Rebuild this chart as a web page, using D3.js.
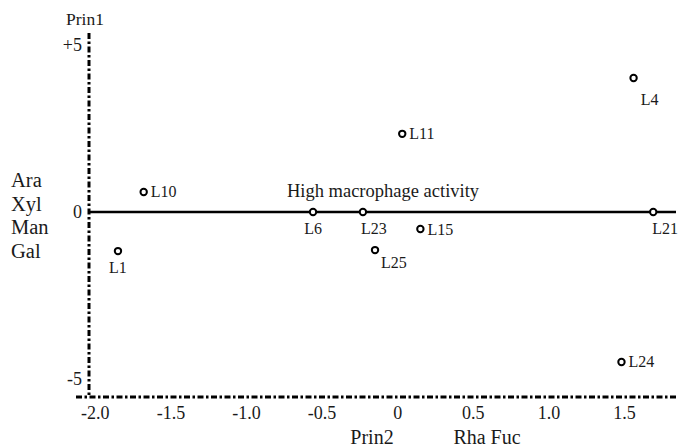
<!DOCTYPE html>
<html><head><meta charset="utf-8">
<script src="https://cdn.jsdelivr.net/npm/d3@7"></script>
<style>body{margin:0;background:#fff}svg{display:block}text{font-family:"Liberation Serif","Times New Roman",serif;fill:#1a1a1a}</style>
</head><body><svg id="c" width="680" height="447"></svg>
<script>
const names = ["L10","L1","L6","L23","L11","L15","L25","L21","L4","L24"];
const prin2 = [-1.68,-1.85,-0.56,-0.23,0.03,0.15,-0.15,1.69,1.56,1.48];
const prin1 = [0.60,-1.17,0,0,2.34,-0.51,-1.14,0,4.01,-4.49];
const labelPlace = ["right","below","below","below","right","right","belowRight","below","below","right"];
const xTicks = [-2.0,-1.5,-1.0,-0.5,0,0.5,1.0,1.5];
const xTickLabels = ["-2.0","-1.5","-1.0","-0.5","0","0.5","1.0","1.5"];
const yTicks = [5,0,-5];
const yTickLabels = ["+5","0","-5"];
const sugars = ["Ara","Xyl","Man","Gal"];

const svg = d3.select("#c");
const x = d3.scaleLinear().domain([-2.0,1.5]).range([95.3,624.5]);
const y = d3.scaleLinear().domain([-5,5]).range([379,45]);
const axisX0 = 89, axisY0 = 397;
const dash = "6,2.5,2.5,2.5";

svg.append("line").attr("x1",axisX0).attr("x2",axisX0).attr("y1",33).attr("y2",axisY0)
  .attr("stroke","#000").attr("stroke-width",3).attr("stroke-dasharray",dash);
svg.append("line").attr("x1",76).attr("x2",678).attr("y1",axisY0).attr("y2",axisY0)
  .attr("stroke","#000").attr("stroke-width",3).attr("stroke-dasharray",dash);

svg.append("g").selectAll("text").data(xTicks).join("text")
  .attr("x",d=>x(d)).attr("y",419).attr("text-anchor","middle").attr("font-size",18)
  .text((d,i)=>xTickLabels[i]);
svg.append("g").selectAll("text").data(yTicks).join("text")
  .attr("x",82).attr("y",d=>y(d)+6).attr("text-anchor","end").attr("font-size",18)
  .text((d,i)=>yTickLabels[i]);

svg.append("text").attr("x",85).attr("y",25).attr("text-anchor","middle").attr("font-size",17.5).text("Prin1");
svg.append("text").attr("x",372).attr("y",444).attr("text-anchor","middle").attr("font-size",20).text("Prin2");
svg.append("text").attr("x",487).attr("y",444).attr("text-anchor","middle").attr("font-size",20).text("Rha Fuc");
svg.append("g").selectAll("text").data(sugars).join("text")
  .attr("x",11).attr("y",(d,i)=>187+i*23.5).attr("font-size",20.5).text(d=>d);

svg.append("line").attr("x1",axisX0).attr("x2",676).attr("y1",y(0)).attr("y2",y(0))
  .attr("stroke","#000").attr("stroke-width",2.5);
svg.append("text").attr("x",383).attr("y",197).attr("text-anchor","middle").attr("font-size",18.5).text("High macrophage activity");

const pts = names.map((n,i)=>({n,x:prin2[i],y:prin1[i],p:labelPlace[i]}));
svg.append("g").selectAll("circle").data(pts).join("circle")
  .attr("cx",d=>x(d.x)).attr("cy",d=>y(d.y)).attr("r",3.2)
  .attr("fill","#fff").attr("stroke","#000").attr("stroke-width",2);
const dxBelow = {L23:11, L21:12, L4:16};
svg.append("g").selectAll("text").data(pts).join("text")
  .attr("font-size",16)
  .attr("x",d=>d.p==="right"?x(d.x)+7:d.p==="belowRight"?x(d.x)+6:x(d.x)+(dxBelow[d.n]||0))
  .attr("y",d=>d.p==="right"?y(d.y)+5.5:d.p==="belowRight"?y(d.y)+18:y(d.y)+(d.n==="L4"?27:22))
  .attr("text-anchor",d=>d.p==="below"?"middle":"start")
  .text(d=>d.n);
</script></body></html>
